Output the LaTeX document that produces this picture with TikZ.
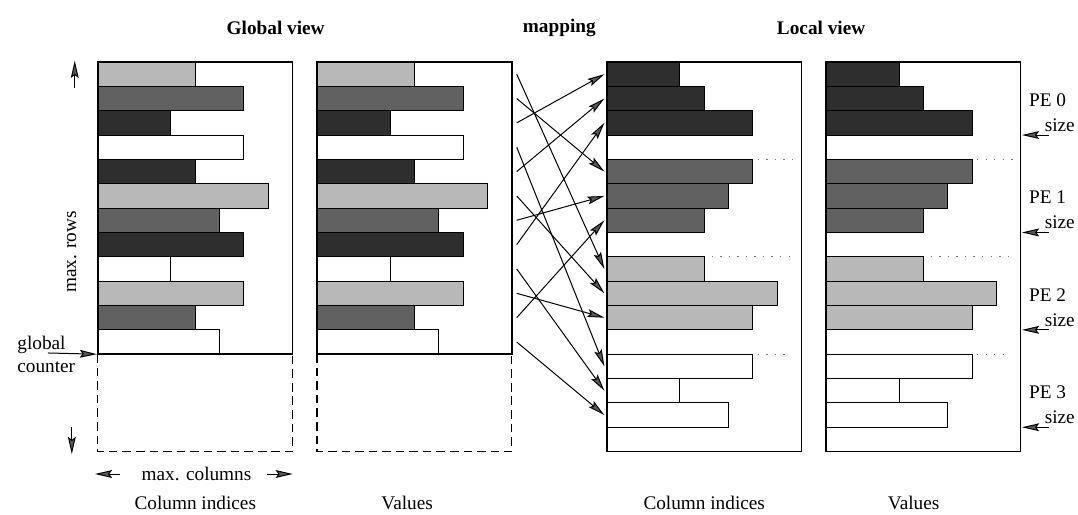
\documentclass[tikz,border=0pt]{standalone}
\usepackage{fontspec}
\setmainfont{Liberation Serif}
\usetikzlibrary{arrows.meta}

\colorlet{dk}{black!82}
\colorlet{md}{black!62}
\colorlet{lt}{black!28}

\begin{document}
\begin{tikzpicture}[x=0.6cm,y=0.6cm,line width=0.7pt,
	font=\fontsize{13.5}{16}\selectfont,
	>={Stealth[length=12pt,width=5.5pt,inset=2pt,fill=black!65]},
	panel/.style={draw,line width=1pt},
	spare/.style={line width=0.8pt,dash pattern=on 6pt off 3.5pt},
	sep/.style={black!55,line width=0.6pt,dash pattern=on 1pt off 5pt},
	title/.style={font=\fontsize{13.5}{16}\selectfont\bfseries}]
	
	\useasboundingbox (-4.02,2.546) rectangle (40.25,-18.6);
	
	% global view: column indices and values
	\foreach \x in {0,9} {
		\foreach \r/\w/\s in {1/4/lt,2/6/md,3/3/dk,4/6/white,5/4/dk,6/7/lt,
			7/5/md,8/6/dk,9/3/white,10/6/lt,11/4/md,12/5/white}
			\draw[fill=\s] (\x,1-\r) rectangle ++(\w,-1);
		\draw[panel] (\x,0) rectangle ++(8,-12);
		\draw[spare] (\x,-12) -- ++(0,-4) -- ++(8,0) -- ++(0,4);
	}
	
	% local view: one block of rows per PE
	\foreach \x in {20.9,29.9} {
		\foreach \r/\w/\s in {1/3/dk,2/4/dk,3/6/dk,5/6/md,6/5/md,7/4/md,
			9/4/lt,10/7/lt,11/6/lt,13/6/white,14/3/white,15/5/white}
			\draw[fill=\s] (\x,1-\r) rectangle ++(\w,-1);
		\draw[panel] (\x,0) rectangle ++(8,-16);
		\draw[sep] (\x+6.2,-4) -- (\x+7.8,-4);
		\draw[sep] (\x+4.3,-8) -- (\x+7.8,-8);
		\draw[sep] (\x+6.2,-12) -- (\x+7.6,-12);
	}
	
	\node[title] (global) at (7.3,1.4)   {Global view};
	\node[title] (map)    at (18.95,1.4) {mapping};
	\node[title] (local)  at (29.7,1.4)  {Local view};
	
	\node (gci) at (4,-18.1)    {Column indices};
	\node (gva) at (12.7,-18.1) {Values};
	\node (lci) at (24.9,-18.1) {Column indices};
	\node (lva) at (33.5,-18.1) {Values};
	
	% axes of the global arrays
	\node[rotate=90] (rows) at (-1.07,-7.8) {max. rows};
	\coordinate (rup0) at (-0.95,-1.05);
	\coordinate (rup1) at (-0.95,0.05);
	\coordinate (rdn0) at (-1.07,-15.0);
	\coordinate (rdn1) at (-1.07,-16.1);
	\draw[->] (rup0) -- (rup1);
	\draw[->] (rdn0) -- (rdn1);
	
	\node (cols) at (4.05,-16.92) {max. columns};
	\coordinate (cl0) at (0.9,-16.92);
	\coordinate (cl1) at (-0.12,-16.92);
	\coordinate (cr0) at (6.95,-16.92);
	\coordinate (cr1) at (8.0,-16.92);
	\draw[->] (cl0) -- (cl1);
	\draw[->] (cr0) -- (cr1);
	
	\node[align=left] (counter) at (-2.12,-12.0) {global\\counter};
	\coordinate (gc0) at (-2.05,-11.95);
	\coordinate (gc1) at (-0.04,-12.0);
	\draw[->] (gc0) -- (gc1);
	
	% PE blocks and their sizes
	\foreach \k in {0,...,3} {
		\node (pe\k) at (39.0,-1.56-4*\k) {PE \k};
		\node (size\k) at (39.5,-2.6-4*\k) {size};
		\coordinate (sz\k) at (39.05,-3-4*\k);
		\coordinate (szend\k) at (37.95,-3-4*\k);
		\draw[->] (sz\k) -- (szend\k);
	}
	
	% mapping of the global rows onto the local rows
	\foreach \r in {1,...,12}
		\coordinate (g\r) at (17.2,0.5-\r);
	\foreach \r in {1,...,16}
		\coordinate (l\r) at (20.8,0.5-\r);
	
	\path[->]
	(g1) edge (l9)
	(g2) edge (l5)
	(g3) edge (l1)
	(g4) edge (l13)
	(g5) edge (l2)
	(g6) edge (l10)
	(g7) edge (l6)
	(g8) edge (l3)
	(g9) edge (l14)
	(g10) edge (l11)
	(g11) edge (l7)
	(g12) edge (l15);
\end{tikzpicture}
\end{document}
